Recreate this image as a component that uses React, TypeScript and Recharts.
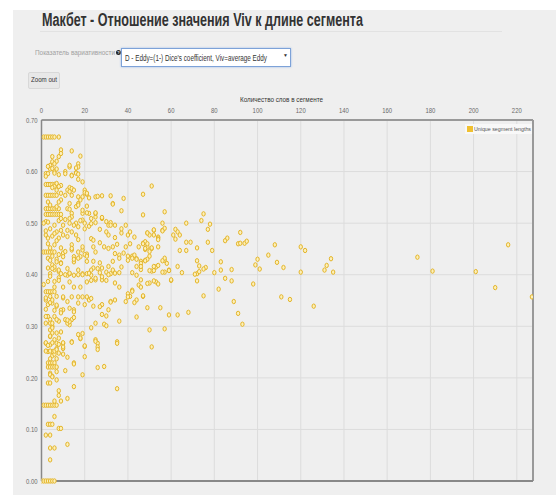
import React from "react"
import { CartesianGrid, Legend, ReferenceLine, Scatter, ScatterChart, XAxis, YAxis } from "recharts"

const sans = "'Liberation Sans', Arial, sans-serif"

const xTicks = [0, 20, 40, 60, 80, 100, 120, 140, 160, 180, 200, 220]
const yTicks = [0, 0.1, 0.2, 0.3, 0.4, 0.5, 0.6, 0.7]

// flat bands of overlapping points next to the y axis
const bandPoints: [number, number][] = [
  [1, 0.667], [2, 0.667], [3, 0.667], [4, 0.667], [5, 0.667], [6, 0.667], [8, 0.667],
  [2, 0.575], [3, 0.575], [4, 0.575], [5, 0.575], [6, 0.575], [7, 0.575],
  [2, 0.554], [3, 0.554], [4, 0.554], [5, 0.554], [6, 0.554], [7, 0.554],
  [2, 0.528], [3, 0.528], [4, 0.528], [5, 0.528], [6, 0.528], [7, 0.528], [8, 0.528],
  [2, 0.517], [3, 0.517], [4, 0.517], [5, 0.517], [6, 0.517], [7, 0.517], [8, 0.517], [9, 0.517],
  [1, 0.444], [2, 0.444], [3, 0.444], [4, 0.444], [5, 0.444], [6, 0.444],
  [2, 0.367], [3, 0.367], [4, 0.367], [5, 0.367], [6, 0.367],
  [3, 0.229], [4, 0.229], [5, 0.229], [6, 0.229],
  [3, 0.221], [4, 0.221], [5, 0.221], [6, 0.221], [7, 0.221],
  [1, 0.147], [2, 0.147], [3, 0.147], [4, 0.147], [5, 0.147], [6, 0.147], [7, 0.147],
  [3, 0.11], [4, 0.11], [5, 0.11],
  [8, 0.102], [9, 0.102],
  [0, 0], [1, 0], [2, 0], [3, 0], [4, 0], [5, 0], [6, 0],
]

// short segments, 0..12 words
const leftColumn: [number, number][] = [
  [9, 0.642], [9, 0.635], [8, 0.629], [5, 0.629], [5, 0.619], [7, 0.62], [4, 0.612], [4, 0.605],
  [5, 0.606], [6, 0.6], [2, 0.596], [3, 0.596], [6, 0.597], [8, 0.594], [2, 0.591], [3, 0.61],
  [6, 0.615], [7, 0.605], [7, 0.577], [9, 0.573], [6, 0.571], [8, 0.571], [7, 0.564], [5, 0.569],
  [9, 0.558], [9, 0.545], [3, 0.541], [8, 0.541], [4, 0.535], [7, 0.532], [2, 0.503], [3, 0.502],
  [6, 0.496], [8, 0.505], [10, 0.496], [9, 0.509], [11, 0.507], [4, 0.489], [7, 0.483], [9, 0.486],
  [2, 0.477], [3, 0.471], [8, 0.471], [10, 0.477], [6, 0.458], [8, 0.439], [7, 0.43], [9, 0.423],
  [2, 0.485], [3, 0.46], [5, 0.475], [4, 0.452], [6, 0.48], [7, 0.466], [9, 0.452], [5, 0.436],
  [3, 0.432], [10, 0.442], [10, 0.435], [1, 0.5],
  [5, 0.419], [3, 0.413], [6, 0.41], [8, 0.406], [4, 0.428], [7, 0.425], [9, 0.422], [6, 0.415],
  [4, 0.402], [9, 0.402], [5, 0.412], [8, 0.409], [8, 0.394], [6, 0.387], [3, 0.387], [4, 0.397],
  [1, 0.381], [8, 0.389], [6, 0.376], [10, 0.376], [4, 0.358], [7, 0.358], [2, 0.351], [5, 0.345],
  [10, 0.355], [7, 0.339], [10, 0.332], [9, 0.331], [9, 0.326], [3, 0.319], [4, 0.313], [2, 0.306],
  [5, 0.3], [8, 0.31], [4, 0.293], [9, 0.289], [7, 0.287], [4, 0.28], [6, 0.274], [8, 0.277],
  [2, 0.267], [7, 0.267], [10, 0.267], [4, 0.264], [7, 0.257], [10, 0.257], [3, 0.251], [5, 0.251],
  [8, 0.248], [8, 0.265], [10, 0.26], [10, 0.246], [2, 0.355], [2, 0.333], [2, 0.319], [3, 0.342],
  [4, 0.346], [4, 0.306], [2, 0.268], [2, 0.252], [3, 0.263], [4, 0.252], [5, 0.268], [5, 0.306],
  [5, 0.297], [5, 0.287], [4, 0.281], [6, 0.319], [6, 0.331], [7, 0.341], [5, 0.351], [7, 0.313],
  [5, 0.243], [6, 0.246], [4, 0.237], [6, 0.252], [7, 0.255], [7, 0.237],
  [4, 0.209], [5, 0.203], [7, 0.212], [4, 0.206], [5, 0.202], [3, 0.19], [4, 0.19], [7, 0.196],
  [8, 0.175], [8, 0.166], [9, 0.155], [6, 0.155], [12, 0.16], [11, 0.214], [6, 0.125],
  [2, 0.089], [4, 0.089], [4, 0.064], [6, 0.064], [4, 0.041], [12, 0.071],
]

// main cloud, 11..72 words
const middleCloud: [number, number][] = [
  [14, 0.64], [18, 0.63], [17, 0.615], [17, 0.609], [13, 0.609], [11, 0.6], [11, 0.596], [14, 0.593],
  [16, 0.598], [17, 0.585], [19, 0.58], [13, 0.612], [16, 0.607], [16, 0.597], [17, 0.595], [14, 0.592],
  [13, 0.569], [12, 0.564], [14, 0.567], [20, 0.564], [20, 0.559], [21, 0.556], [17, 0.551], [19, 0.551],
  [22, 0.549], [25, 0.551], [26, 0.552], [28, 0.553], [32, 0.553], [38, 0.548], [47, 0.556], [51, 0.572],
  [11, 0.554], [13, 0.561], [14, 0.554], [15, 0.564], [21, 0.558], [13, 0.538], [17, 0.538], [16, 0.532],
  [18, 0.545], [21, 0.533], [33, 0.538], [37, 0.524], [47, 0.516], [57, 0.522], [12, 0.528], [13, 0.527],
  [14, 0.519], [14, 0.512], [13, 0.509], [19, 0.519], [19, 0.525], [22, 0.519], [23, 0.509], [25, 0.512],
  [25, 0.519], [17, 0.535], [21, 0.52], [25, 0.52], [33, 0.537],
  [13, 0.5], [16, 0.5], [19, 0.506], [20, 0.5], [22, 0.494], [25, 0.501], [28, 0.509], [30, 0.503],
  [31, 0.496], [32, 0.501], [27, 0.488], [30, 0.483], [31, 0.477], [34, 0.472], [37, 0.481], [40, 0.477],
  [43, 0.473], [49, 0.481], [50, 0.477], [52, 0.486], [54, 0.473], [56, 0.486], [56, 0.5], [57, 0.49],
  [15, 0.496], [18, 0.505], [23, 0.499], [28, 0.511], [32, 0.496], [34, 0.496], [37, 0.489], [39, 0.496],
  [41, 0.483], [12, 0.486], [14, 0.483], [17, 0.493], [20, 0.489],
  [14, 0.448], [15, 0.435], [15, 0.425], [17, 0.444], [19, 0.448], [19, 0.454], [21, 0.44], [18, 0.435],
  [21, 0.426], [23, 0.47], [24, 0.467], [24, 0.454], [25, 0.444], [27, 0.462], [29, 0.454], [31, 0.451],
  [33, 0.454], [35, 0.459], [34, 0.441], [36, 0.438], [39, 0.454], [41, 0.46], [42, 0.436], [43, 0.438],
  [44, 0.431], [45, 0.454], [47, 0.461], [48, 0.449], [49, 0.454], [50, 0.436], [51, 0.451], [48, 0.428],
  [54, 0.454], [57, 0.428], [58, 0.422],
  [12, 0.474], [16, 0.477], [17, 0.468], [14, 0.458], [14, 0.451], [11, 0.445], [15, 0.43], [17, 0.432],
  [20, 0.439], [21, 0.436], [24, 0.426], [27, 0.423], [24, 0.413], [28, 0.413], [31, 0.416], [33, 0.426],
  [36, 0.432], [38, 0.442], [40, 0.436], [42, 0.432], [44, 0.43], [46, 0.426], [44, 0.416], [46, 0.41],
  [12, 0.412], [12, 0.399], [13, 0.402], [15, 0.399], [17, 0.409], [19, 0.402], [21, 0.402], [23, 0.409],
  [23, 0.399], [26, 0.412], [27, 0.404], [30, 0.405], [32, 0.402], [33, 0.409], [36, 0.404], [37, 0.415],
  [40, 0.428], [42, 0.404], [44, 0.399], [51, 0.407], [53, 0.415], [57, 0.405], [59, 0.409],
  [34, 0.403], [31, 0.4], [28, 0.39], [25, 0.39], [22, 0.403], [19, 0.4], [17, 0.4], [13, 0.403], [11, 0.4],
  [13, 0.386], [15, 0.376], [18, 0.376], [21, 0.386], [23, 0.389], [25, 0.393], [28, 0.396], [30, 0.389],
  [34, 0.384], [36, 0.376], [40, 0.363], [42, 0.37], [45, 0.38], [46, 0.376], [50, 0.384], [53, 0.386],
  [60, 0.389], [72, 0.402],
  [12, 0.348], [13, 0.335], [15, 0.332], [17, 0.345], [20, 0.342], [22, 0.351], [24, 0.339], [28, 0.342],
  [31, 0.332], [32, 0.348], [34, 0.351], [39, 0.348], [41, 0.358], [44, 0.351], [11, 0.313], [14, 0.313],
  [13, 0.303], [10, 0.357], [14, 0.357], [17, 0.357], [19, 0.357], [21, 0.357], [23, 0.354], [27, 0.338],
  [32, 0.347], [40, 0.357], [42, 0.368], [47, 0.358], [43, 0.346], [44, 0.318], [49, 0.336], [55, 0.336],
  [59, 0.322], [63, 0.322], [68, 0.327], [50, 0.293], [57, 0.295], [51, 0.26], [35, 0.27], [36, 0.31],
  [30, 0.32], [28, 0.323], [25, 0.306], [29, 0.304], [30, 0.301], [23, 0.297], [19, 0.286], [17, 0.284],
  [18, 0.276], [20, 0.261], [25, 0.274], [26, 0.267], [26, 0.26], [14, 0.27], [10, 0.268], [12, 0.24],
  [15, 0.229], [12, 0.306], [13, 0.309], [12, 0.312], [15, 0.317], [15, 0.328],
  [14, 0.269], [18, 0.277], [20, 0.262], [20, 0.241], [25, 0.271], [26, 0.255], [35, 0.267], [26, 0.22],
  [29, 0.222], [19, 0.206], [15, 0.227], [35, 0.179], [15, 0.183],
]

// long segments, sparse
const rightTail: [number, number][] = [
  [75, 0.518], [74, 0.505], [78, 0.498], [77, 0.488], [67, 0.5], [56, 0.485], [49, 0.481], [52, 0.487],
  [52, 0.477], [48, 0.464], [47, 0.46], [49, 0.46], [51, 0.452], [50, 0.445], [48, 0.451], [54, 0.471],
  [54, 0.468], [61, 0.477], [62, 0.488], [63, 0.483], [64, 0.477], [62, 0.469], [67, 0.463], [69, 0.463],
  [64, 0.447], [67, 0.447], [72, 0.452], [77, 0.463], [79, 0.447], [85, 0.466], [86, 0.471], [92, 0.482],
  [91, 0.46], [92, 0.461], [94, 0.461], [95, 0.465], [108, 0.458], [105, 0.438], [100, 0.43], [99, 0.419],
  [101, 0.411], [109, 0.424], [88, 0.41], [83, 0.425], [83, 0.409], [85, 0.393], [88, 0.388], [80, 0.404],
  [76, 0.414], [75, 0.411], [73, 0.417], [73, 0.406], [72, 0.427], [71, 0.401], [72, 0.388], [65, 0.404],
  [63, 0.416], [59, 0.408], [60, 0.39], [56, 0.405], [54, 0.418], [52, 0.416], [52, 0.408], [50, 0.408],
  [57, 0.432], [56, 0.427], [49, 0.43], [48, 0.427], [46, 0.422], [46, 0.416], [46, 0.39], [49, 0.383],
  [52, 0.388], [54, 0.382], [47, 0.359], [75, 0.359], [82, 0.372], [89, 0.348], [98, 0.382],
  [112, 0.414], [120, 0.454], [122, 0.447], [120, 0.405], [134, 0.431], [132, 0.418], [131, 0.409],
  [135, 0.405], [174, 0.434], [181, 0.407], [201, 0.406], [210, 0.375], [216, 0.458], [227, 0.357],
  [111, 0.357], [115, 0.352], [91, 0.325], [93, 0.304], [126, 0.339],
]

const data = [...bandPoints, ...leftColumn, ...middleCloud, ...rightTail].map(([words, viv]) => ({ words, viv }))

// the reference text is horizontally squeezed, so fit each label into its measured width
const measureCtx = document.createElement("canvas").getContext("2d")!
function textWidth(text: string, font: string) {
  measureCtx.font = font
  return measureCtx.measureText(text).width
}

function Squeezed({ text, width, size, bold, color }: any) {
  const font = `${bold ? "bold " : ""}${size}px ${sans}`
  const k = width / textWidth(text, font)
  return (
    <span
      style={{
        display: "block",
        whiteSpace: "nowrap",
        font,
        lineHeight: `${size}px`,
        color,
        transform: `scaleX(${k})`,
        transformOrigin: "0 50%",
      }}
    >
      {text}
    </span>
  )
}

function Dot(props: any) {
  const { cx, cy } = props
  if (cx == null || cy == null) return null
  return <ellipse cx={cx} cy={cy} rx={1.7} ry={2.2} fill="#fdf0b8" stroke="#e4b52a" strokeWidth={1} />
}

function XTick({ x, y, payload }: any) {
  return (
    <text transform={`translate(${x},${y}) scale(0.8,1)`} textAnchor="middle" fontSize={7.4} fill="#6a6a6a" fontFamily={sans}>
      {payload.value}
    </text>
  )
}

function YTick({ x, y, payload }: any) {
  return (
    <text transform={`translate(${x},${y + 2.7}) scale(0.8,1)`} textAnchor="end" fontSize={7.4} fill="#6a6a6a" fontFamily={sans}>
      {Number(payload.value).toFixed(2)}
    </text>
  )
}

function LegendBox({ payload }: any) {
  return (
    <div style={{ position: "relative", height: 10, background: "#f8f8f8" }}>
      {(payload ?? []).map((entry: any) => (
        <React.Fragment key={entry.value}>
          <span style={{ position: "absolute", left: 2, top: 2, width: 6, height: 6, background: "#f0c030" }} />
          <span style={{ position: "absolute", left: 9, top: 2 }}>
            <Squeezed text={entry.value} width={57} size={6} color="#555" />
          </span>
        </React.Fragment>
      ))}
    </div>
  )
}

export default function App() {
  return (
    <div style={{ position: "absolute", left: 0, top: 0, width: 556, height: 495, background: "#fff", overflow: "hidden", fontFamily: sans }}>
      <div style={{ position: "absolute", left: 13, top: 10, width: 543, height: 485, background: "#efefef" }} />

      <div style={{ position: "absolute", left: 42, top: 10.5 }}>
        <Squeezed text="Макбет - Отношение значения Viv к длине сегмента" width={321} size={18} bold color="#333" />
      </div>
      <div style={{ position: "absolute", left: 40, top: 31, width: 462, height: 1, background: "#e2e2e2" }} />

      <div style={{ position: "absolute", left: 35, top: 49 }}>
        <Squeezed text="Показатель вариативности" width={80} size={8} color="#a0a0a0" />
      </div>
      <div
        style={{
          position: "absolute",
          left: 116,
          top: 50,
          width: 5,
          height: 5,
          borderRadius: 3,
          background: "#222",
          color: "#fff",
          fontSize: 4,
          fontWeight: "bold",
          lineHeight: "5px",
          textAlign: "center",
        }}
      >
        ?
      </div>
      <div
        style={{
          position: "absolute",
          left: 121,
          top: 48,
          width: 168,
          height: 17,
          background: "#fff",
          border: "1px solid #7da2d8",
          boxShadow: "0 0 2px #9cbce8",
        }}
      >
        <span style={{ position: "absolute", left: 3, top: 4.5 }}>
          <Squeezed text="D - Eddy=(1-) Dice's coefficient, Viv=average Eddy" width={142} size={8.5} color="#333" />
        </span>
        <span style={{ position: "absolute", left: 161, top: 4, fontSize: 5, lineHeight: "5px", color: "#333" }}>▼</span>
      </div>

      <div
        style={{
          position: "absolute",
          left: 28,
          top: 72,
          width: 30,
          height: 15,
          background: "#e8e8e8",
          border: "1px solid #d8d8d8",
          borderRadius: 2,
        }}
      >
        <span style={{ position: "absolute", left: 2, top: 2.5 }}>
          <Squeezed text="Zoom out" width={26} size={8} color="#333" />
        </span>
      </div>

      <div style={{ position: "absolute", left: 240, top: 96 }}>
        <Squeezed text="Количество слов в сегменте" width={83} size={8} color="#333" />
      </div>

      <div style={{ position: "absolute", left: 0, top: 0 }}>
        <ScatterChart width={556} height={495} margin={{ top: 92, right: 23, bottom: 14, left: 11.5 }}>
          <CartesianGrid stroke="#dcdcdc" strokeWidth={1} />
          <XAxis
            type="number"
            dataKey="words"
            orientation="top"
            domain={[0, 227.5]}
            ticks={xTicks}
            height={28}
            tickSize={0}
            tickMargin={7}
            tickLine={false}
            tick={<XTick />}
            axisLine={{ stroke: "#999", strokeWidth: 2 }}
            allowDataOverflow
          />
          <YAxis
            type="number"
            dataKey="viv"
            domain={[0, 0.7]}
            ticks={yTicks}
            width={30}
            tickSize={0}
            tickMargin={4}
            tickLine={false}
            tick={<YTick />}
            axisLine={{ stroke: "#888", strokeWidth: 1.5 }}
          />
          <ReferenceLine x={227.5} stroke="#999" strokeWidth={2} />
          <ReferenceLine y={0} stroke="#888" strokeWidth={2} />
          <Legend
            verticalAlign="middle"
            align="center"
            layout="horizontal"
            wrapperStyle={{ top: 124, left: 465, width: 67, height: 10 }}
            content={LegendBox}
          />
          <Scatter name="Unique segment lengths" data={data} fill="#f0c030" shape={Dot} isAnimationActive={false} />
        </ScatterChart>
      </div>
    </div>
  )
}
